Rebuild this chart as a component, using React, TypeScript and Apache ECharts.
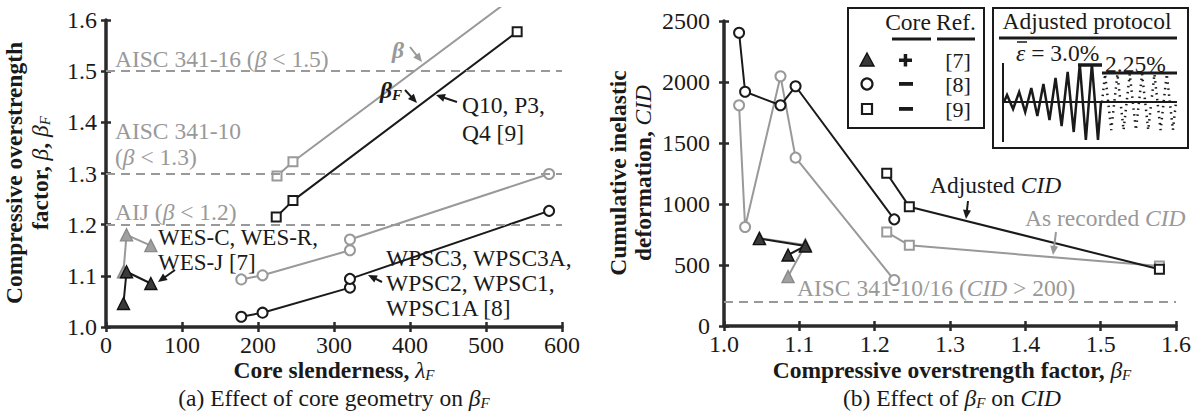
import React, { useEffect, useRef } from 'react';
import * as echarts from 'echarts';

const SERIF = 'Liberation Serif, Times New Roman, serif';
const BLACK = '#1a1a1a';
const GRAY = '#999999';
const AXIS = '#2a2a2a';

// ---------- Panel (a): core slenderness vs overstrength ----------
const limitsA = [1.5, 1.3, 1.2];
const qBeta = [[225, 1.295], [246, 1.323], [541, 1.65]];
const qBetaF = [[224, 1.215], [246, 1.247], [541, 1.577]];
const wpscBeta = [[178, 1.093], [206, 1.101], [321, 1.15], [321, 1.171], [583, 1.299]];
const wpscBetaF = [[178, 1.02], [206, 1.028], [321, 1.077], [321, 1.094], [583, 1.227]];
const wesBeta = [[23, 1.108], [27, 1.18], [59, 1.159]];
const wesBetaF = [[23, 1.046], [27, 1.108], [59, 1.085]];

// ---------- Panel (b): beta_F vs CID ----------
const limitB = 200;
const wpscRecorded = [[1.02, 1809], [1.028, 811], [1.075, 2047], [1.095, 1380], [1.226, 377]];
const wpscAdjusted = [[1.02, 2404], [1.028, 1920], [1.075, 1809], [1.095, 1965], [1.226, 874]];
const qRecorded = [[1.216, 770], [1.246, 661], [1.578, 492]];
const qAdjusted = [[1.216, 1252], [1.246, 978], [1.578, 465]];
const wesRecorded = [[1.047, 720], [1.108, 665], [1.085, 405]];
const wesAdjusted = [[1.047, 716], [1.108, 656], [1.085, 582]];

// ---------- Inset protocol schematic ----------
const protoAmps = [7, 10, 14, 18, 24, 30, 38, 38];
const dottedAmps = [28, 28, 28, 28, 28, 28];

const rich = (fill: string, size = 23.5) => ({
  n: { fill, color: fill, fontFamily: SERIF, fontSize: size, lineHeight: 24 },
  i: { fill, color: fill, fontFamily: SERIF, fontSize: size, fontStyle: 'italic', lineHeight: 24 },
  b: { fill, color: fill, fontFamily: SERIF, fontSize: size, fontWeight: 'bold', lineHeight: 24 },
  bi: { fill, color: fill, fontFamily: SERIF, fontSize: size, fontWeight: 'bold', fontStyle: 'italic', lineHeight: 24 },
  sub: { fill, color: fill, fontFamily: SERIF, fontSize: 15, fontStyle: 'italic', verticalAlign: 'bottom', lineHeight: 14 },
  bsub: { fill, color: fill, fontFamily: SERIF, fontSize: 15, fontWeight: 'bold', fontStyle: 'italic', verticalAlign: 'bottom', lineHeight: 14 },
});

const txt = (x: number, y: number, text: string, fill = BLACK, align = 'left', rotation = 0, size = 23.5) => ({
  type: 'text',
  x,
  y,
  rotation,
  z: 50,
  silent: true,
  style: {
    text,
    fill,
    fontFamily: SERIF,
    fontSize: size,
    align,
    textAlign: align,
    verticalAlign: 'middle',
    textVerticalAlign: 'middle',
    rich: rich(fill, size),
  },
});

const arrow = (x1: number, y1: number, x2: number, y2: number, color = BLACK) => {
  const dx = x2 - x1;
  const dy = y2 - y1;
  const len = Math.sqrt(dx * dx + dy * dy);
  const ux = dx / len;
  const uy = dy / len;
  const hl = 9;
  const hw = 4;
  const bx = x2 - ux * hl;
  const by = y2 - uy * hl;
  return [
    { type: 'line', z: 50, silent: true, shape: { x1, y1, x2: bx + ux * 2, y2: by + uy * 2 }, style: { stroke: color, lineWidth: 2 } },
    {
      type: 'polygon',
      z: 50,
      silent: true,
      shape: { points: [[x2, y2], [bx - uy * hw, by + ux * hw], [bx + uy * hw, by - ux * hw]] },
      style: { fill: color },
    },
  ];
};

const zigzag = (x0: number, x1: number, yc: number, amps: number[]) => {
  const w = (x1 - x0) / amps.length;
  const pts: number[][] = [[x0, yc]];
  amps.forEach((a, i) => {
    pts.push([x0 + w * (i + 0.25), yc - a]);
    pts.push([x0 + w * (i + 0.75), yc + a]);
  });
  pts.push([x1, yc]);
  return pts;
};

const axisBase = (grid: number, min: number, max: number, interval: number, fmt: (v: number) => string, margin: number) => ({
  type: 'value',
  gridIndex: grid,
  min,
  max,
  interval,
  axisLine: { show: true, onZero: false, lineStyle: { color: AXIS, width: 3.5 } },
  axisTick: { show: true, inside: false, length: 5, lineStyle: { color: AXIS, width: 2.5 } },
  splitLine: { show: false },
  axisLabel: {
    fontFamily: SERIF,
    fontSize: 24,
    color: BLACK,
    margin,
    formatter: (v: number) => fmt(v),
  },
});

const innerAxis = (grid: number, min: number, max: number, interval: number) => ({
  type: 'value',
  gridIndex: grid,
  min,
  max,
  interval,
  axisLine: { show: false },
  axisLabel: { show: false },
  splitLine: { show: false },
  axisTick: { show: true, inside: true, length: 5, lineStyle: { color: AXIS, width: 2.5 } },
});

const series = (data: number[][], grid: number, color: string, symbol: string, filled: boolean, z: number, extra: any = {}) => ({
  type: 'line',
  data,
  xAxisIndex: grid,
  yAxisIndex: grid,
  z,
  symbol,
  symbolSize: symbol === 'triangle' ? 12 : symbol === 'rect' ? 9 : 10,
  showSymbol: true,
  lineStyle: { color, width: 2 },
  itemStyle: filled
    ? { color: color === BLACK ? '#3a3a3a' : '#a0a0a0', borderColor: color === BLACK ? '#111' : '#8a8a8a', borderWidth: 1.4 }
    : { color: '#ffffff', borderColor: color, borderWidth: 2 },
  emphasis: { disabled: true },
  silent: true,
  ...extra,
});

const dashedLimits = (values: number[]) => ({
  silent: true,
  symbol: ['none', 'none'],
  label: { show: false },
  lineStyle: { type: [9, 6], color: GRAY, width: 2 },
  data: values.map((v) => ({ yAxis: v })),
});

const fix1 = (v: number) => v.toFixed(1);
const plain = (v: number) => String(Math.round(v));

export default function App() {
  const ref = useRef<HTMLDivElement>(null);

  useEffect(() => {
    document.body.style.margin = '0';
    if (!ref.current) return;
    const chart = echarts.init(ref.current, undefined, { renderer: 'svg' });

    const graphics: any[] = [
      // mask top edge (figure crop)
      { type: 'rect', z: 100, silent: true, shape: { x: 380, y: 0, width: 200, height: 7 }, style: { fill: '#ffffff' } },

      // ----- Panel (a) texts -----
      txt(14, 173, '{b|Compressive overstrength}', BLACK, 'center', Math.PI / 2),
      txt(40, 173, '{b|factor, }{i|β}{b|, }{i|β}{sub|F}', BLACK, 'center', Math.PI / 2),
      txt(334, 370, '{b|Core slenderness, }{i|λ}{sub|F}', BLACK, 'center'),
      txt(334, 398, '{n|(a) Effect of core geometry on }{i|β}{sub|F}', BLACK, 'center'),
      txt(115, 59, '{n|AISC 341-16 (}{i|β}{n| < 1.5)}', GRAY),
      txt(115, 131, '{n|AISC 341-10}', GRAY),
      txt(115, 157, '{n|(}{i|β}{n| < 1.3)}', GRAY),
      txt(115, 212, '{n|AIJ (}{i|β}{n| < 1.2)}', GRAY),
      txt(158, 237, '{n|WES-C, WES-R,}', BLACK, 'left', 0, 23),
      txt(158, 262, '{n|WES-J [7]}', BLACK, 'left', 0, 23),
      txt(392, 50, '{bi|β}', GRAY),
      txt(380, 90, '{bi|β}{bsub|F}', BLACK),
      txt(462, 105, '{n|Q10, P3,}', BLACK),
      txt(462, 133, '{n|Q4 [9]}', BLACK),
      txt(386, 258, '{n|WPSC3, WPSC3A,}', BLACK),
      txt(386, 283, '{n|WPSC2, WPSC1,}', BLACK),
      txt(386, 308, '{n|WPSC1A [8]}', BLACK),
      ...arrow(175, 270, 158, 282),
      ...arrow(410, 47, 422, 62, GRAY),
      ...arrow(405, 90, 417, 103),
      ...arrow(457, 102, 436, 95),
      ...arrow(382, 282, 368, 275),

      // ----- Panel (b) texts -----
      txt(618, 173, '{b|Cumulative inelastic}', BLACK, 'center', Math.PI / 2),
      txt(643, 173, '{b|deformation, }{i|CID}', BLACK, 'center', Math.PI / 2),
      txt(952, 370, '{b|Compressive overstrength factor, }{i|β}{sub|F}', BLACK, 'center'),
      txt(952, 398, '{n|(b) Effect of }{i|β}{sub|F}{n| on }{i|CID}', BLACK, 'center'),
      txt(930, 185, '{n|Adjusted }{i|CID}', BLACK),
      txt(1025, 218, '{n|As recorded }{i|CID}', GRAY),
      txt(797, 288, '{n|AISC 341-10/16 (}{i|CID}{n| > 200)}', GRAY),
      ...arrow(968, 201, 966, 219),
      ...arrow(1056, 232, 1053, 255, GRAY),

      // ----- Legend box -----
      { type: 'rect', z: 40, silent: true, shape: { x: 848, y: 8, width: 136, height: 120 }, style: { fill: '#ffffff', stroke: BLACK, lineWidth: 2 } },
      txt(908, 22, '{n|Core}', BLACK, 'center'),
      txt(956, 22, '{n|Ref.}', BLACK, 'center'),
      { type: 'line', z: 50, silent: true, shape: { x1: 892, y1: 39, x2: 931, y2: 39 }, style: { stroke: BLACK, lineWidth: 3 } },
      { type: 'line', z: 50, silent: true, shape: { x1: 937, y1: 39, x2: 975, y2: 39 }, style: { stroke: BLACK, lineWidth: 3 } },
      { type: 'polygon', z: 50, silent: true, shape: { points: [[867, 53], [874, 66], [860, 66]] }, style: { fill: '#3a3a3a', stroke: '#111', lineWidth: 1.4 } },
      { type: 'circle', z: 50, silent: true, shape: { cx: 867, cy: 84, r: 5.5 }, style: { fill: '#fff', stroke: BLACK, lineWidth: 2.2 } },
      { type: 'rect', z: 50, silent: true, shape: { x: 862, y: 104, width: 10, height: 10 }, style: { fill: '#fff', stroke: BLACK, lineWidth: 2.2 } },
      { type: 'rect', z: 50, silent: true, shape: { x: 899, y: 58.5, width: 13, height: 3.5 }, style: { fill: BLACK } },
      { type: 'rect', z: 50, silent: true, shape: { x: 903.7, y: 54, width: 3.5, height: 12.5 }, style: { fill: BLACK } },
      { type: 'rect', z: 50, silent: true, shape: { x: 899, y: 82, width: 14, height: 3.8 }, style: { fill: BLACK } },
      { type: 'rect', z: 50, silent: true, shape: { x: 899, y: 107, width: 14, height: 3.8 }, style: { fill: BLACK } },
      txt(958, 60, '{n|[7]}', BLACK, 'center', 0, 22),
      txt(958, 84.5, '{n|[8]}', BLACK, 'center', 0, 22),
      txt(958, 109, '{n|[9]}', BLACK, 'center', 0, 22),

      // ----- Protocol inset -----
      { type: 'rect', z: 40, silent: true, shape: { x: 993, y: 8, width: 195, height: 140 }, style: { fill: '#ffffff', stroke: BLACK, lineWidth: 2 } },
      txt(1087, 21, '{n|Adjusted protocol}', BLACK, 'center'),
      { type: 'line', z: 50, silent: true, shape: { x1: 999, y1: 38, x2: 1177, y2: 38 }, style: { stroke: BLACK, lineWidth: 3 } },
      txt(1016, 53, '{i|ε}{n| = 3.0%}', BLACK, 'left'),
      { type: 'line', z: 50, silent: true, shape: { x1: 1017, y1: 42, x2: 1027, y2: 42 }, style: { stroke: BLACK, lineWidth: 1.5 } },
      txt(1105, 64, '{n|2.25%}', BLACK, 'left'),
      { type: 'line', z: 50, silent: true, shape: { x1: 1102, y1: 73, x2: 1177, y2: 73 }, style: { stroke: BLACK, lineWidth: 3 } },
      { type: 'line', z: 50, silent: true, shape: { x1: 1078, y1: 65, x2: 1102, y2: 65 }, style: { stroke: BLACK, lineWidth: 3.5 } },
      { type: 'line', z: 50, silent: true, shape: { x1: 1003, y1: 63, x2: 1003, y2: 142 }, style: { stroke: BLACK, lineWidth: 2 } },
      { type: 'line', z: 50, silent: true, shape: { x1: 1003, y1: 102, x2: 1177, y2: 102 }, style: { stroke: BLACK, lineWidth: 2 } },
      { type: 'polyline', z: 51, silent: true, shape: { points: zigzag(1004, 1101, 102, protoAmps) }, style: { stroke: BLACK, lineWidth: 2.5, fill: 'none' } },
      {
        type: 'polyline',
        z: 51,
        silent: true,
        shape: { points: zigzag(1102, 1176, 102, dottedAmps) },
        style: { stroke: BLACK, lineWidth: 2.5, fill: 'none', lineDash: [1.5, 4.5] },
      },
    ];

    const option: any = {
      animation: false,
      backgroundColor: '#ffffff',
      grid: [
        { left: 106, top: 20, width: 456, height: 307 },
        { left: 724, top: 21, width: 457, height: 305 },
      ],
      xAxis: [
        { ...axisBase(0, 0, 600, 100, plain, 6), position: 'bottom' },
        { ...axisBase(1, 1.0, 1.6, 0.1, fix1, 6), position: 'bottom' },
        { ...innerAxis(0, 0, 600, 100), position: 'bottom' },
        { ...innerAxis(1, 1.0, 1.6, 0.1), position: 'bottom' },
      ],
      yAxis: [
        { ...axisBase(0, 1.0, 1.6, 0.1, fix1, 9), position: 'left' },
        { ...axisBase(1, 0, 2500, 500, plain, 14), position: 'left' },
        { ...innerAxis(0, 1.0, 1.6, 0.1), position: 'left' },
        { ...innerAxis(1, 0, 2500, 500), position: 'left' },
      ],
      series: [
        // Panel (a)
        series(wpscBeta, 0, GRAY, 'circle', false, 2, { markLine: dashedLimits(limitsA) }),
        series(qBeta, 0, GRAY, 'rect', false, 2, { clip: false }),
        series(wesBeta, 0, GRAY, 'triangle', true, 2),
        series(wpscBetaF, 0, BLACK, 'circle', false, 3),
        series(qBetaF, 0, BLACK, 'rect', false, 3),
        series(wesBetaF, 0, BLACK, 'triangle', true, 3),
        // Panel (b)
        series(wpscRecorded, 1, GRAY, 'circle', false, 2, { markLine: dashedLimits([limitB]) }),
        series(qRecorded, 1, GRAY, 'rect', false, 2),
        series(wesRecorded, 1, GRAY, 'triangle', true, 2),
        series(wpscAdjusted, 1, BLACK, 'circle', false, 3),
        series(qAdjusted, 1, BLACK, 'rect', false, 3),
        series(wesAdjusted, 1, BLACK, 'triangle', true, 3),
      ],
      graphic: { elements: graphics },
    };

    chart.setOption(option);
    return () => {
      chart.dispose();
    };
  }, []);

  return <div ref={ref} style={{ width: 1194, height: 415 }} />;
}
